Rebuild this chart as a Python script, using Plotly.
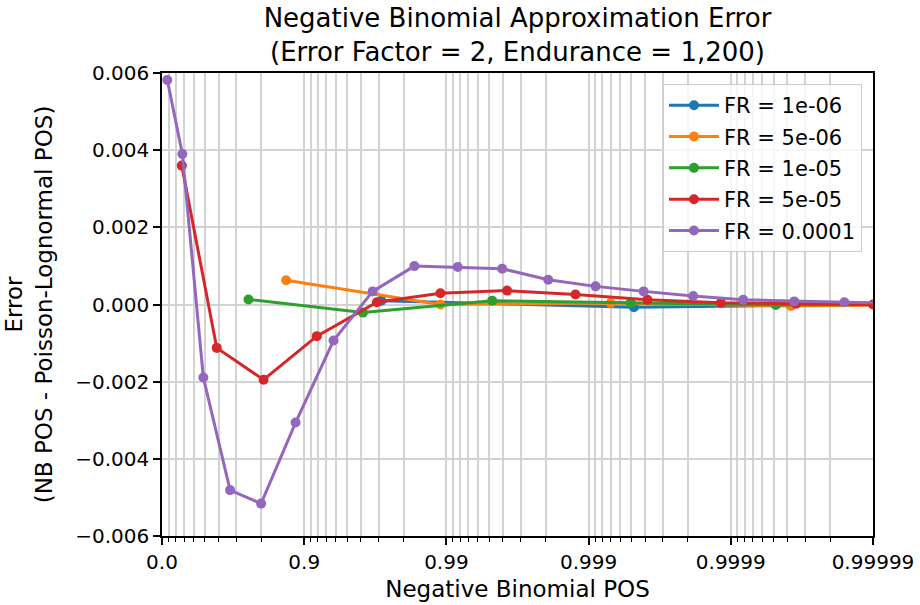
import numpy as np
import plotly.graph_objects as go

# ---- data (POS values on x, error on y) ----
series_names = ["FR = 1e-06", "FR = 5e-06", "FR = 1e-05", "FR = 5e-05", "FR = 0.0001"]
colors = ["#1f77b4", "#ff7f0e", "#2ca02c", "#d62728", "#9467bd"]

pos_1e6 = [0.97129, 0.99952, 0.9999921]
err_1e6 = [0.00010, -0.00007, 0.00000]

pos_5e6 = [0.866, 0.98898, 0.9993, 0.9999622, 0.999998]
err_5e6 = [0.00063, 0.00000, 0.00004, -0.00004, 0.00000]

pos_1e5 = [0.7534, 0.96136, 0.995236, 0.999494, 0.9999518, 0.999995]
err_1e5 = [0.00013, -0.00021, 0.00010, 0.000045, -0.00001, 0.00000]

pos_5e5 = [0.274, 0.588, 0.807, 0.9185, 0.9692, 0.98898, 0.996259, 0.998764,
           0.999614, 0.9998825, 0.9999652, 0.99999]
err_5e5 = [0.00360, -0.001125, -0.00195, -0.00082, 0.00006, 0.00029, 0.00036,
           0.00026, 0.00012, 0.000045, 0.00002, 0.00000]

pos_1e4 = [0.0823, 0.281, 0.488, 0.668, 0.799, 0.885, 0.9378, 0.967, 0.9832,
           0.99168, 0.995945, 0.998077, 0.999107, 0.99959, 0.999816, 0.9999182,
           0.9999642, 0.9999841, 0.9999929]
err_1e4 = [0.00582, 0.00390, -0.00189, -0.00481, -0.00516, -0.00306, -0.000935,
           0.00034, 0.000995, 0.00097, 0.000927, 0.00064, 0.00047, 0.00034,
           0.00022, 0.00012, 0.00008, 0.00006, 0.00004]

major_tick_labels = ["0.0", "0.9", "0.99", "0.999", "0.9999", "0.99999"]
y_ticks = [-0.006, -0.004, -0.002, 0.0, 0.002, 0.004, 0.006]

all_pos = [pos_1e6, pos_5e6, pos_1e5, pos_5e5, pos_1e4]
all_err = [err_1e6, err_5e6, err_1e5, err_5e5, err_1e4]


def nines(p):
    p = np.asarray(p, dtype=float)
    return -np.log10(1.0 - p)


major_vals = [float(nines(float(s))) for s in major_tick_labels]
minor_vals = []
for k in range(len(major_vals) - 1):
    for j in range(1, 9):
        minor_vals.append(k - np.log10(1 - j / 10))

fig = go.Figure()
for name, col, p, e in zip(series_names, colors, all_pos, all_err):
    fig.add_trace(go.Scatter(
        x=nines(p), y=e, mode="lines+markers", name=name, legendgroup=name,
        line=dict(color=col, width=3), marker=dict(color=col, size=10),
    ))

font = "DejaVu Sans, sans-serif"
fig.update_layout(
    width=920, height=605,
    margin=dict(l=162, r=47, t=73, b=69),
    paper_bgcolor="white", plot_bgcolor="white",
    font=dict(family=font, size=19, color="black"),
    title=dict(text="Negative Binomial Approximation Error<br>(Error Factor = 2, Endurance = 1,200)",
               x=(162 + 873) / 2 / 920, xanchor="center", y=0.955, yanchor="top",
               font=dict(size=26)),
    legend=dict(x=0.9845, y=0.976, xanchor="right", yanchor="top",
                bgcolor="rgba(255,255,255,0.8)", bordercolor="#cccccc", borderwidth=1,
                font=dict(size=21), tracegroupgap=1, itemwidth=50),
    showlegend=True,
)
fig.update_xaxes(
    range=[0, 5], tickmode="array", tickvals=major_vals, ticktext=major_tick_labels,
    tickfont=dict(size=20), automargin=False,
    showgrid=True, gridcolor="#d3d3d3", gridwidth=1.5,
    ticks="outside", ticklen=7, tickwidth=1.5, tickcolor="black",
    minor=dict(tickvals=minor_vals, showgrid=True, gridcolor="#d3d3d3", gridwidth=1.5,
               ticks="outside", ticklen=4, tickwidth=1, tickcolor="black"),
    showline=True, linecolor="black", linewidth=1.5, mirror=True, zeroline=False,
    title=dict(text="Negative Binomial POS", standoff=8),
)
fig.update_yaxes(
    range=[-0.006, 0.006], tickmode="array", tickvals=y_ticks, tickformat=".3f",
    tickfont=dict(size=20), automargin=False,
    showgrid=True, gridcolor="#d3d3d3", gridwidth=1.5,
    ticks="outside", ticklen=7, tickwidth=1.5, tickcolor="black",
    showline=True, linecolor="black", linewidth=1.5, mirror=True, zeroline=False,
    title=dict(text="Error<br>(NB POS - Poisson-Lognormal POS)", standoff=16),
)
fig.write_html("out.html")
